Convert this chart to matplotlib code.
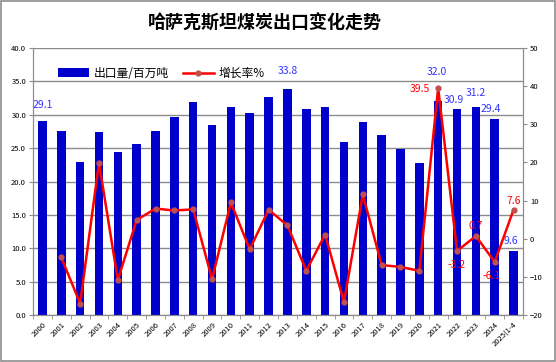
import numpy as np
import matplotlib
matplotlib.use('Agg')
from matplotlib import pyplot as plt
from matplotlib.lines import Line2D
from matplotlib.patches import Patch, Rectangle

plt.rcParams['font.family'] = ['Noto Sans CJK SC', 'DejaVu Sans']

# data
years = ['2000', '2001', '2002', '2003', '2004', '2005', '2006', '2007', '2008',
         '2009', '2010', '2011', '2012', '2013', '2014', '2015', '2016', '2017',
         '2018', '2019', '2020', '2021', '2022', '2023', '2024', '2025(1-4']
exports = [29.1, 27.6, 22.9, 27.4, 24.4, 25.6, 27.6, 29.7, 31.9,
           28.5, 31.2, 30.3, 32.7, 33.8, 30.9, 31.2, 25.9, 28.9,
           27.0, 24.9, 22.8, 32.0, 30.9, 31.2, 29.4, 9.6]
growth = [np.nan, -4.9, -17.0, 19.9, -10.8, 4.9, 7.9, 7.4, 7.7,
          -10.6, 9.5, -2.8, 7.6, 3.5, -8.4, 1.1, -16.6, 11.6,
          -6.9, -7.4, -8.4, 39.5, -3.2, 0.7, -6.1, 7.6]

# which points get value labels, with (dx, dy) offsets in points
bar_labels = {0: (0, 11), 13: (0, 13), 21: (-1, 21), 22: (-2, 6), 23: (0, 10), 24: (-3, 7), 25: (-2, 7)}
line_labels = {21: (-13, -1), 22: (0, -10), 23: (0, 7), 24: (-2, -10), 25: (0, 6)}

fig = plt.figure(figsize=(5.56, 3.62), dpi=100)
fig.patches.append(Rectangle((0.002, 0.002), 0.996, 0.996, transform=fig.transFigure,
                             fill=False, edgecolor='#8c8c8c', linewidth=1.2))

ax = fig.add_axes([0.0594, 0.1298, 0.8812, 0.7376])
ax2 = ax.twinx()

x = np.arange(len(years))
bars = ax.bar(x, exports, width=0.45, color='#0000CC', zorder=2)

ax.set_xlim(-0.5, len(years) - 0.5)
ax.set_ylim(0, 40)
ax.set_yticks(np.arange(0, 41, 5))
ax.set_yticklabels(['%.1f' % v for v in np.arange(0, 41, 5)], fontsize=5.5)
ax.yaxis.grid(True, color='#8c8c8c', linewidth=1)
ax.set_axisbelow(True)

ax.set_xticks(x)
ax.set_xticklabels(years, rotation=45, ha='right', rotation_mode='anchor', fontsize=5.5)
ax.set_xticks(np.arange(-0.5, len(years), 1), minor=True)
ax.tick_params(axis='x', which='major', length=0, pad=4)
ax.tick_params(axis='x', which='minor', length=3, color='#8c8c8c')
ax.tick_params(axis='y', length=3, color='#8c8c8c', pad=2)

ax2.plot(x, growth, color='#FF0000', linewidth=1.8, marker='o', markersize=3.5,
         markerfacecolor='#C0504D', markeredgecolor='#C0504D', zorder=3)
ax2.set_ylim(-20, 50)
ax2.set_yticks(np.arange(-20, 51, 10))
ax2.tick_params(axis='y', length=3, color='#8c8c8c', labelsize=5.5, pad=2)

for sp in ['top']:
    ax.spines[sp].set_visible(False)
    ax2.spines[sp].set_visible(False)
for a in (ax, ax2):
    for sp in ['left', 'right', 'bottom']:
        a.spines[sp].set_color('#8c8c8c')

for i, (dx, dy) in bar_labels.items():
    ax.annotate('%.1f' % exports[i], (x[i], exports[i]), xytext=(dx, dy),
                textcoords='offset points', ha='center', va='center',
                fontsize=7.5, color='#3333FF')
for i, (dx, dy) in line_labels.items():
    ax2.annotate('%.1f' % growth[i], (x[i], growth[i]), xytext=(dx, dy),
                 textcoords='offset points', ha='center', va='center',
                 fontsize=7.5, color='#FF0000')

handles = [Patch(facecolor='#0000CC'),
           Line2D([0], [0], color='#FF0000', linewidth=1.8, marker='o', markersize=3.5,
                  markerfacecolor='#C0504D', markeredgecolor='#C0504D')]
ax2.legend(handles, ['出口量/百万吨', '增长率%'], loc='upper left', ncol=2,
           bbox_to_anchor=(0.03, 0.97), frameon=False, fontsize=8.5,
           handlelength=2.6, handleheight=0.7, columnspacing=1.2, handletextpad=0.4)

fig.text(0.477, 0.935, '哈萨克斯坦煤炭出口变化走势', ha='center', va='center',
         fontsize=13, fontweight='bold')

plt.savefig('out.png', dpi=100)
